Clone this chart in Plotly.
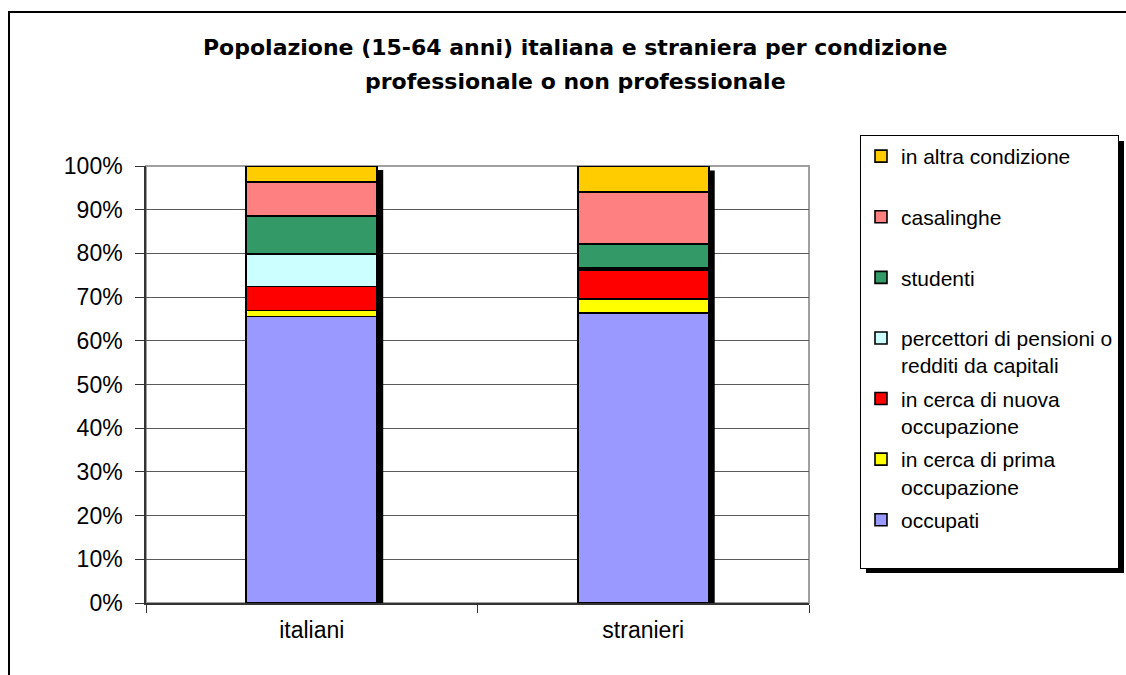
import plotly.graph_objects as go

categories = ["italiani", "stranieri"]
series_names = [
    "occupati",
    "in cerca di prima<br>occupazione",
    "in cerca di nuova<br>occupazione",
    "percettori di pensioni o<br>redditi da capitali",
    "studenti",
    "casalinghe",
    "in altra condizione",
]
occupati = [65.6, 66.4]
prima_occupazione = [1.3, 3.2]
nuova_occupazione = [5.5, 6.6]
pensioni_redditi = [7.5, 0.5]
studenti = [8.7, 5.4]
casalinghe = [7.7, 11.9]
altra_condizione = [3.7, 5.9]
tick_vals = [0, 10, 20, 30, 40, 50, 60, 70, 80, 90, 100]

series_values = [occupati, prima_occupazione, nuova_occupazione, pensioni_redditi,
                 studenti, casalinghe, altra_condizione]
colors = ["#9999FF", "#FFFF00", "#FF0000", "#CCFFFF", "#339966", "#FF8080", "#FFCC00"]

FONT = "Liberation Sans, Arial, sans-serif"
TITLE_FONT = "DejaVu Sans, Liberation Sans, Arial, sans-serif"

fig = go.Figure()
n = len(series_names)
for k, (name, vals, col) in enumerate(zip(series_names, series_values, colors)):
    # pad one-line legend entries to two lines so all entries are equally spaced
    label = name if "<br>" in name else name + "<br>\u00a0"
    fig.add_trace(go.Bar(
        x=categories, y=vals, name=label, legendgroup=f"g{k}", legendrank=n - k,
        marker=dict(color=col, line=dict(color="black", width=1.6)),
        width=0.395, hoverinfo="y+name",
    ))

# geometry of plot area in pixels
L, R, T, B = 146, 809, 166, 603
W, H = R - L, B - T

def px_x(p):
    return (p - L) / W

def px_y(p):
    return (B - p) / H

shapes = []
# outer chart border
shapes.append(dict(type="rect", xref="paper", yref="paper",
                   x0=px_x(9), x1=px_x(1140), y0=px_y(690), y1=px_y(12),
                   line=dict(color="black", width=2), fillcolor="rgba(0,0,0,0)", layer="below"))
# plot area border (gray)
shapes.append(dict(type="rect", xref="paper", yref="paper", x0=0, x1=1, y0=0, y1=1,
                   line=dict(color="#A0A0A0", width=2), fillcolor="rgba(0,0,0,0)", layer="below"))
# bar shadows
totals = [sum(v[i] for v in series_values) for i in range(len(categories))]
bw = 0.395
sh = 6 / (W / 2)
for i, tot in enumerate(totals):
    shapes.append(dict(type="rect", xref="x", yref="y",
                       x0=i + bw / 2, x1=i + bw / 2 + sh, y0=0, y1=tot - 4 / (H / 100),
                       line=dict(width=0), fillcolor="black", layer="above"))
# legend shadow
shapes.append(dict(type="rect", xref="paper", yref="paper",
                   x0=px_x(866), x1=px_x(1124), y0=px_y(573), y1=px_y(141),
                   line=dict(width=0), fillcolor="black", layer="above"))

annotations = [
    dict(text="<b>Popolazione (15-64 anni) italiana e straniera per condizione</b>",
         xref="paper", yref="paper", x=px_x(575), y=px_y(47), showarrow=False,
         xanchor="center", yanchor="middle", font=dict(family=TITLE_FONT, size=22, color="black")),
    dict(text="<b>professionale o non professionale</b>",
         xref="paper", yref="paper", x=px_x(575), y=px_y(82), showarrow=False,
         xanchor="center", yanchor="middle", font=dict(family=TITLE_FONT, size=22, color="black")),
]

fig.update_layout(
    width=1126, height=675,
    margin=dict(l=L, r=1126 - R, t=T, b=675 - B, autoexpand=False),
    paper_bgcolor="white", plot_bgcolor="white",
    barmode="stack", bargap=0.605,
    font=dict(family=FONT, color="black"),
    shapes=shapes, annotations=annotations,
    showlegend=True,
    legend=dict(
        x=px_x(860), y=px_y(135), xanchor="left", yanchor="top",
        traceorder="grouped", tracegroupgap=3, valign="top",
        bordercolor="black", borderwidth=1, bgcolor="white",
        font=dict(family=FONT, size=21, color="black"),
        maxheight=500,
    ),
    xaxis=dict(
        type="category", categoryorder="array", categoryarray=categories,
        range=[-0.5, 1.5], showgrid=False, zeroline=False,
        showline=True, linecolor="#333333", linewidth=1.5,
        ticks="outside", ticklen=8, tickcolor="#333333", ticklabelstandoff=6,
        tickfont=dict(family=FONT, size=23, color="black"),
        tickson="boundaries",
    ),
    yaxis=dict(
        range=[0, 100], tickmode="array", tickvals=tick_vals,
        ticktext=[f"{v}%" for v in tick_vals],
        showgrid=True, gridcolor="#5a5a5a", gridwidth=1, zeroline=False,
        showline=True, linecolor="#333333", linewidth=1.5,
        ticks="outside", ticklen=9, tickcolor="#333333", ticklabelstandoff=8,
        tickfont=dict(family=FONT, size=23, color="black"),
    ),
)

fig.write_html("out.html", config={"displayModeBar": False},
               post_script="document.body.style.margin='0';")
